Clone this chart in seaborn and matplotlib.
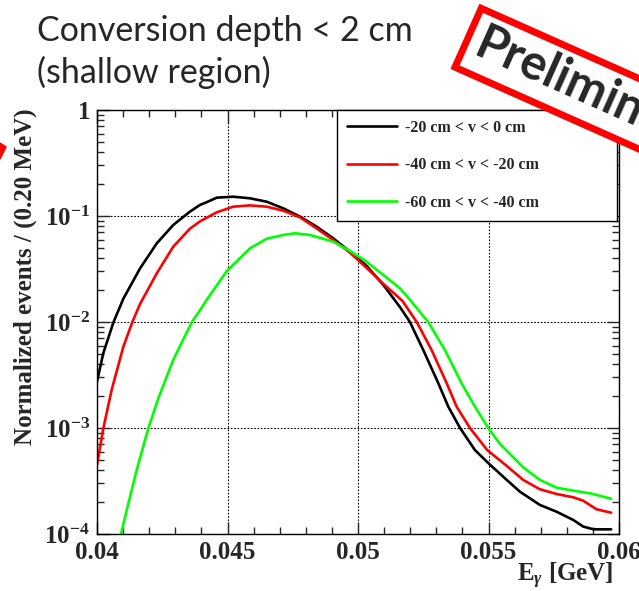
import numpy as np
import pandas as pd
import matplotlib
matplotlib.use("Agg")
import matplotlib.pyplot as plt
import matplotlib.ticker as mticker
from matplotlib.patches import Polygon
import seaborn as sns

# ---- data (y given as log10 of normalized events) ----
series_labels = ["-20 cm < v < 0 cm", "-40 cm < v < -20 cm", "-60 cm < v < -40 cm"]
series_colors = ["#000000", "#ff0000", "#00ff00"]

black_x = [0.0400, 0.04024, 0.04063, 0.04101, 0.04165, 0.04229, 0.04292, 0.04356,
           0.04395, 0.0442, 0.04459, 0.04522, 0.04586, 0.0465, 0.04714, 0.04778,
           0.04841, 0.04905, 0.04969, 0.05033, 0.05097, 0.05161, 0.05199, 0.0525,
           0.05308, 0.05346, 0.05391, 0.05448, 0.05503, 0.0557, 0.0562, 0.05697,
           0.05761, 0.05825, 0.05863, 0.05902, 0.0597]
black_log10 = [-2.563, -2.295, -2.003, -1.78, -1.494, -1.258, -1.085, -0.959,
               -0.895, -0.87, -0.827, -0.818, -0.833, -0.865, -0.928, -1.006,
               -1.10, -1.21, -1.337, -1.47, -1.65, -1.86, -2.0, -2.264,
               -2.579, -2.799, -3.0, -3.208, -3.34, -3.49, -3.60, -3.726,
               -3.79, -3.868, -3.93, -3.956, -3.956]

red_x = [0.0400, 0.04024, 0.04056, 0.04101, 0.04135, 0.04165, 0.04229, 0.04292,
         0.04356, 0.04395, 0.04459, 0.04522, 0.04586, 0.0465, 0.04714, 0.04778,
         0.04841, 0.04905, 0.04969, 0.05033, 0.05097, 0.0517, 0.05225, 0.05282,
         0.0534, 0.05378, 0.05429, 0.05495, 0.0557, 0.05633, 0.05697, 0.05761,
         0.05825, 0.05863, 0.05914, 0.0597]
red_log10 = [-3.35, -3.006, -2.642, -2.233, -2.003, -1.83, -1.541, -1.29,
             -1.12, -1.05, -0.965, -0.912, -0.90, -0.912, -0.95, -1.013,
             -1.116, -1.226, -1.345, -1.49, -1.64, -1.80, -2.0, -2.264,
             -2.579, -2.799, -3.0, -3.208, -3.358, -3.49, -3.578, -3.623,
             -3.654, -3.686, -3.767, -3.799]

green_x = [0.0407, 0.04092, 0.04114, 0.04152, 0.04197, 0.04235, 0.04292, 0.04363,
           0.04395, 0.0442, 0.04497, 0.04586, 0.0465, 0.04714, 0.04759, 0.04816,
           0.04905, 0.04969, 0.05033, 0.05097, 0.05161, 0.05199, 0.05269, 0.05333,
           0.05397, 0.05448, 0.05499, 0.05544, 0.05633, 0.05697, 0.05761, 0.05825,
           0.05889, 0.0597]
green_log10 = [-4.3, -4.0, -3.774, -3.396, -3.0, -2.72, -2.358, -2.003,
               -1.887, -1.792, -1.52, -1.305, -1.215, -1.179, -1.163, -1.179,
               -1.242, -1.33, -1.431, -1.557, -1.682, -1.79, -2.0, -2.264,
               -2.579, -2.799, -3.0, -3.15, -3.371, -3.49, -3.563, -3.591,
               -3.616, -3.667]

x_ticks = [0.04, 0.045, 0.05, 0.055, 0.06]
x_tick_labels = ["0.04", "0.045", "0.05", "0.055", "0.06"]

# ---- style ----
sns.set_style("ticks")
plt.rcParams["font.family"] = ["Liberation Serif", "DejaVu Serif"]
plt.rcParams["font.weight"] = "bold"
plt.rcParams["mathtext.fontset"] = "custom"
plt.rcParams["mathtext.rm"] = "Liberation Serif:bold"
plt.rcParams["mathtext.it"] = "Liberation Serif:bold:italic"
plt.rcParams["mathtext.bf"] = "Liberation Serif:bold"

frames = []
for lab, xs, ls in zip(series_labels, [black_x, red_x, green_x],
                       [black_log10, red_log10, green_log10]):
    frames.append(pd.DataFrame({"E": xs, "val": 10 ** np.array(ls), "series": lab}))
df = pd.concat(frames, ignore_index=True)

fig = plt.figure(figsize=(6.39, 5.91), dpi=100)
ax = fig.add_axes([97 / 639, 1 - 534 / 591, 522 / 639, 424 / 591])

sns.lineplot(data=df, x="E", y="val", hue="series", hue_order=series_labels,
             palette=dict(zip(series_labels, series_colors)), estimator=None,
             sort=False, linewidth=1.9, ax=ax, legend=True)
for ln in ax.get_lines():
    ln.set_solid_joinstyle("round")

ax.set_yscale("log")
ax.set_xlim(0.04, 0.06)
ax.set_ylim(1e-4, 1)

ax.set_xticks(x_ticks)
ax.set_xticklabels(x_tick_labels)
ax.xaxis.set_minor_locator(mticker.MultipleLocator(0.001))
ax.yaxis.set_major_locator(mticker.LogLocator(base=10, numticks=10))
ax.yaxis.set_minor_locator(mticker.LogLocator(base=10, subs=np.arange(2, 10), numticks=20))
ax.yaxis.set_minor_formatter(mticker.NullFormatter())


def yfmt(v, pos):
    e = int(round(np.log10(v)))
    if e == 0:
        return "1"
    return r"$\mathregular{10^{%d}}$" % e


ax.yaxis.set_major_formatter(mticker.FuncFormatter(yfmt))
ax.tick_params(which="both", direction="in", top=True, right=True, width=1.0,
               labelsize=18, pad=5)
ax.tick_params(which="major", length=9)
ax.tick_params(which="minor", length=5)
for lbl in ax.get_xticklabels() + ax.get_yticklabels():
    lbl.set_fontweight("bold")
for s in ax.spines.values():
    s.set_linewidth(1.0)
    s.set_color("black")

ax.grid(True, which="major", color="black", linestyle=(0, (1.5, 1.5)), linewidth=0.8)
ax.set_xlabel("")
ax.set_ylabel("")

# legend
h, l = ax.get_legend_handles_labels()
leg = ax.legend(h, l, loc="upper left", bbox_to_anchor=(0.46, 0.745, 0.537, 0.255),
                mode="expand", borderaxespad=0, fancybox=False, framealpha=1,
                edgecolor="black", prop={"family": "Liberation Serif", "weight": "bold", "size": 11.5},
                handlelength=3.1, handletextpad=0.5, labelspacing=1.34,
                borderpad=0.62)
leg.get_frame().set_linewidth(1.0)
for line in leg.get_lines():
    line.set_linewidth(1.9)

# axis labels (ROOT style)
fig.text(613 / 639, 1 - 576 / 591, r"E$_\gamma$ [GeV]", ha="right", va="center",
         fontsize=18, fontweight="bold", family="Liberation Serif")
fig.text(25 / 639, 1 - 277 / 591, "Normalized events / (0.20 MeV)", rotation=90,
         ha="center", va="center", fontsize=18, fontweight="bold", family="Liberation Serif")

# slide annotations
fig.text(37 / 639, 1 - 41 / 591, "Conversion depth < 2 cm", ha="left", va="baseline",
         fontsize=24.5, family="Lato", fontweight="normal")
fig.text(37 / 639, 1 - 83 / 591, "(shallow region)", ha="left", va="baseline",
         fontsize=24.5, family="Lato", fontweight="normal")

fig.text(477 / 639, 1 - 41.7 / 591, "Preliminary", rotation=-24, rotation_mode="anchor",
         ha="left", va="center", fontsize=35, family="Lato", fontweight="bold",
         bbox=dict(boxstyle="square,pad=0.2", fc="white", ec="#ff0000", lw=5))

tri = Polygon([[0, 1 - 143 / 591], [6 / 639, 1 - 147 / 591], [0, 1 - 159 / 591]],
              closed=True, transform=fig.transFigure, color="#ff0000")
fig.patches.append(tri)

fig.savefig("out.png", dpi=100)
